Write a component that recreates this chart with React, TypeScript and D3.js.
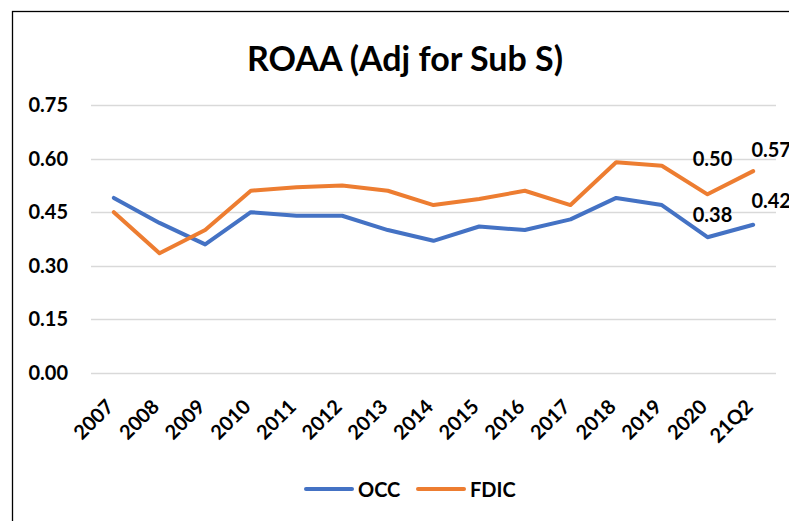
import { useEffect, useRef } from 'react'
import * as d3 from 'd3'

const CATEGORIES = ['2007','2008','2009','2010','2011','2012','2013','2014','2015','2016','2017','2018','2019','2020','21Q2']
const OCC = [0.49,0.42,0.36,0.45,0.44,0.44,0.40,0.37,0.41,0.40,0.43,0.49,0.47,0.38,0.415]
const FDIC = [0.45,0.335,0.40,0.51,0.52,0.525,0.51,0.47,0.487,0.51,0.47,0.59,0.58,0.50,0.565]
const Y_TICKS = [0, 0.15, 0.3, 0.45, 0.6, 0.75]
const SERIES = [
  { name: 'OCC', values: OCC, color: '#4472C4', labels: ['0.38', '0.42'] },
  { name: 'FDIC', values: FDIC, color: '#ED7D31', labels: ['0.50', '0.57'] },
]

const W = 789, H = 521
const FONT = 'Lato, Carlito, "Open Sans", sans-serif'

export default function App() {
  const ref = useRef<SVGSVGElement>(null)
  useEffect(() => {
    if (!ref.current) return
    const svg = d3.select(ref.current)
    svg.selectAll('*').remove()

    const x = d3.scaleBand().domain(CATEGORIES).range([91, 776])
    const cx = (c: string) => (x(c) as number) + x.bandwidth() / 2
    const y = d3.scaleLinear().domain([0, 0.75]).range([373, 105])

    svg.append('rect').attr('width', W).attr('height', H).attr('fill', '#fff')
    svg.append('rect').attr('x', 12.5).attr('y', 11.5).attr('width', 820).attr('height', 560)
      .attr('fill', 'none').attr('stroke', '#000').attr('stroke-width', 1.3)

    svg.append('text').attr('x', 405).attr('y', 71).attr('text-anchor', 'middle')
      .style('font-family', FONT).style('font-weight', 700).style('font-size', '34px').text('ROAA (Adj for Sub S)')

    // gridlines + y labels
    const yg = svg.append('g')
    Y_TICKS.forEach(t => {
      yg.append('line').attr('x1', 91).attr('x2', 776).attr('y1', Math.round(y(t)) + 0.5).attr('y2', Math.round(y(t)) + 0.5)
        .attr('stroke', '#d9d9d9').attr('stroke-width', 1.5)
      yg.append('text').attr('x', 68).attr('y', y(t) + 7).attr('text-anchor', 'end')
        .style('font-family', FONT).style('font-weight', 700).style('font-size', '20px').text(d3.format('.2f')(t))
    })

    // x labels
    CATEGORIES.forEach(c => {
      svg.append('text').attr('text-anchor', 'end')
        .attr('transform', `translate(${cx(c) + 1},${408}) rotate(-45)`)
        .style('font-family', FONT).style('font-weight', 700).style('font-size', '20px').text(c)
    })

    const line = d3.line<number>().x((_, i) => cx(CATEGORIES[i])).y(d => y(d))
    // label offsets for the last two points of each series (OCC, FDIC)
    const OFFS = [[[5, -15], [18, -17]], [[5, -28], [18, -14]]]
    SERIES.forEach((s, si) => {
      svg.append('path').attr('d', line(s.values)).attr('fill', 'none').attr('stroke', s.color)
        .attr('stroke-width', 4).attr('stroke-linejoin', 'round').attr('stroke-linecap', 'round')
      const n = s.values.length
      s.labels.forEach((lab, k) => {
        const i = n - 2 + k
        const [dx, dy] = OFFS[si][k]
        svg.append('text').attr('x', cx(CATEGORIES[i]) + dx).attr('y', y(s.values[i]) + dy)
          .attr('text-anchor', 'middle')
          .style('font-family', FONT).style('font-weight', 700).style('font-size', '20px').text(lab)
      })
    })

    // legend
    const lg = svg.append('g')
    const items = [{ s: SERIES[0], x0: 306 }, { s: SERIES[1], x0: 418 }]
    items.forEach(({ s, x0 }) => {
      lg.append('line').attr('x1', x0).attr('x2', x0 + 46).attr('y1', 489).attr('y2', 489)
        .attr('stroke', s.color).attr('stroke-width', 4).attr('stroke-linecap', 'round')
      lg.append('text').attr('x', x0 + 52).attr('y', 497)
        .style('font-family', FONT).style('font-weight', 700).style('font-size', '20px').text(s.name)
    })
  }, [])
  return (
    <div style={{ position: 'absolute', left: 0, top: 0 }}>
      <svg ref={ref} width={W} height={H} style={{ display: 'block' }} />
    </div>
  )
}
